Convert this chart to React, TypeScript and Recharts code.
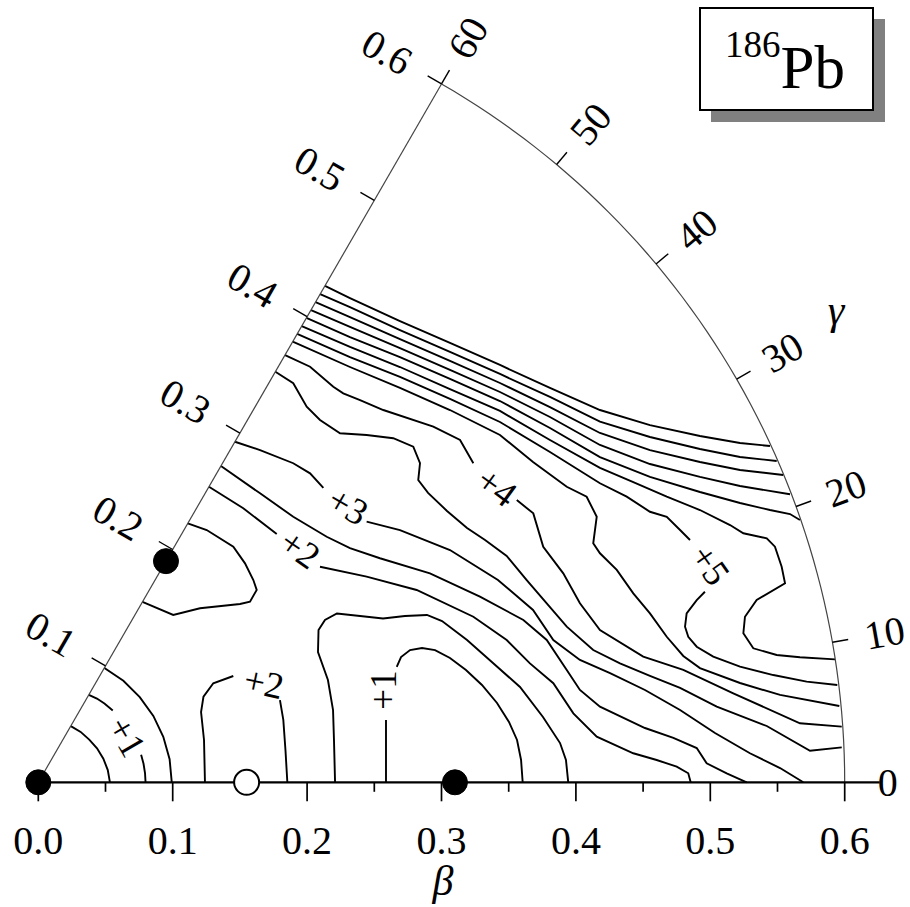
import React from 'react';
import { ComposedChart, Line, XAxis, YAxis, ReferenceLine, ReferenceDot } from 'recharts';

type Pt = [number, number];

// sector geometry: pixel origin of beta = 0 and pixels per unit of beta
const W = 910;
const H = 907;
const OX = 38.3;
const OY = 782.3;
const K = 1344;
const X_DOMAIN: [number, number] = [-OX / K, (W - OX) / K];
const Y_DOMAIN: [number, number] = [(OY - H) / K, OY / K];

const BETA_MAX = 0.6;
const BETA_MAJOR = [0, 0.1, 0.2, 0.3, 0.4, 0.5, 0.6];
const BETA_MINOR = [0.05, 0.15, 0.25, 0.35, 0.45, 0.55];
const BETA_LABELS = ['0.0', '0.1', '0.2', '0.3', '0.4', '0.5', '0.6'];
const OBLATE_TICKS = [0.1, 0.2, 0.3, 0.4, 0.5, 0.6];
const OBLATE_LABELS = ['0.1', '0.2', '0.3', '0.4', '0.5', '0.6'];
const GAMMA_TICKS = [10, 20, 30, 40, 50, 60];
const GAMMA_LABEL_AT = [0, 10, 20, 30, 40, 50, 60];
const GAMMA_LABELS = ['0', '10', '20', '30', '40', '50', '60'];

// minima (filled) and saddle (open), as [beta, gamma in degrees]
const MINIMA: Pt[] = [[0, 0], [0.31, 0], [0.19, 60]];
const SADDLES: Pt[] = [[0.155, 0]];

// contour lines, points as [beta cos(gamma), beta sin(gamma)]
const E05_SPH: Pt[] = [[0.0533, 0], [0.0517, 0.0091], [0.0484, 0.0176], [0.0437, 0.0253], [0.0379, 0.0318], [0.0315, 0.0375], [0.0242, 0.0418]];
const E10_SPH_LOW: Pt[] = [[0.0798, 0], [0.0794, 0.0069], [0.0783, 0.0138], [0.0765, 0.0205]];
const E10_SPH_HIGH: Pt[] = [[0.0554, 0.0535], [0.0492, 0.0586], [0.0436, 0.0623], [0.0376, 0.0651]];
const E15_SPH: Pt[] = [[0.0993, 0], [0.0977, 0.0172], [0.093, 0.0339], [0.0856, 0.0494], [0.0755, 0.0634], [0.0633, 0.0755], [0.0492, 0.0851]];

const E_OBLATE: Pt[] = [[0.1112, 0.1927], [0.1253, 0.1877], [0.1451, 0.1753], [0.1538, 0.1629], [0.16, 0.1505], [0.1625, 0.1431], [0.1575, 0.1344], [0.1501, 0.1327], [0.1203, 0.1295], [0.1004, 0.1245], [0.0775, 0.1342]];

const E20_SAD_A: Pt[] = [[0.124, 0], [0.1233, 0.0315], [0.1211, 0.0523], [0.1229, 0.0637], [0.1302, 0.0737], [0.1451, 0.0791]];
const E20_SAD_B: Pt[] = [[0.1798, 0.0612], [0.1823, 0.0464], [0.1839, 0.024], [0.1853, 0]];

const E10_PRO_A: Pt[] = [[0.2587, 0], [0.2587, 0.0464]];
const E10_PRO_B: Pt[] = [[0.2667, 0.0858], [0.2699, 0.0932], [0.2766, 0.0984], [0.2855, 0.0999], [0.2952, 0.0984], [0.3063, 0.0925], [0.3182, 0.0836], [0.3301, 0.0724], [0.3413, 0.059], [0.3502, 0.0449], [0.3562, 0.0315], [0.3592, 0.0166], [0.3604, 0]];
const E15_PRO: Pt[] = [[0.2208, 0], [0.22, 0.0315], [0.2193, 0.0538], [0.2155, 0.0761], [0.2081, 0.0969], [0.2085, 0.1133], [0.2133, 0.1208], [0.2222, 0.1256], [0.2394, 0.1237], [0.2565, 0.1219], [0.2728, 0.1237], [0.2892, 0.1245], [0.3004, 0.12], [0.319, 0.1059], [0.3383, 0.0888], [0.3584, 0.0709], [0.3755, 0.0486], [0.3882, 0.0292], [0.3926, 0.0166], [0.3943, 0]];

const E20_A: Pt[] = [[0.127, 0.2199], [0.1525, 0.2039], [0.1774, 0.1847]];
const E20_B: Pt[] = [[0.2096, 0.1604], [0.2443, 0.153], [0.2815, 0.1431], [0.3237, 0.1232], [0.3485, 0.1059], [0.3658, 0.0885], [0.3832, 0.0737], [0.3981, 0.0513], [0.4155, 0.0339], [0.4427, 0.0216], [0.4601, 0.0166], [0.475, 0.0116], [0.4836, 0.0067], [0.4854, 0]];
const E25: Pt[] = [[0.1359, 0.2353], [0.165, 0.215], [0.1897, 0.1976], [0.2146, 0.1827], [0.2319, 0.1743], [0.2542, 0.1667], [0.2914, 0.1555], [0.3286, 0.1381], [0.3609, 0.1208], [0.3783, 0.1059], [0.3932, 0.0836], [0.403, 0.0687], [0.4179, 0.0563], [0.4514, 0.0404], [0.4725, 0.033], [0.4899, 0.0255], [0.4973, 0.0141], [0.5122, 0.0067], [0.5271, 0]];
const E30_A: Pt[] = [[0.1463, 0.2534], [0.165, 0.2472], [0.1897, 0.2374], [0.2022, 0.2299], [0.2121, 0.219]];
const E30_B: Pt[] = [[0.2443, 0.1939], [0.2691, 0.1877], [0.3063, 0.1728], [0.342, 0.1505], [0.3681, 0.1282], [0.3832, 0.1059], [0.403, 0.091], [0.4254, 0.0813], [0.4514, 0.0687], [0.4775, 0.0538], [0.5035, 0.0367], [0.5295, 0.0216], [0.5519, 0.0106], [0.5692, 0]];
const E35: Pt[] = [[0.1764, 0.3055], [0.1897, 0.2969], [0.1997, 0.2795], [0.2096, 0.2696], [0.2245, 0.2597], [0.2443, 0.2584], [0.2641, 0.256], [0.279, 0.2497], [0.284, 0.2374], [0.2827, 0.2249], [0.29, 0.2153], [0.3041, 0.2019], [0.319, 0.1892], [0.3324, 0.1803], [0.3485, 0.1684], [0.3634, 0.1505], [0.3783, 0.1332], [0.3932, 0.1158], [0.4129, 0.0984], [0.4328, 0.0885], [0.4551, 0.0791], [0.4775, 0.0702], [0.5048, 0.0563], [0.542, 0.0419], [0.5742, 0.0235], [0.5978, 0.026]];
const E40_A: Pt[] = [[0.1836, 0.3179], [0.2022, 0.3092], [0.2195, 0.2943], [0.2269, 0.2894], [0.2394, 0.2844], [0.2567, 0.277], [0.2939, 0.2646], [0.3138, 0.2547], [0.3237, 0.2374]];
const E40_B: Pt[] = [[0.356, 0.21], [0.3683, 0.2001], [0.3757, 0.1753], [0.3906, 0.1555], [0.403, 0.1332], [0.4179, 0.1133], [0.4501, 0.0935], [0.4799, 0.0836], [0.5171, 0.0662], [0.5667, 0.0439], [0.5978, 0.0414]];
const E45: Pt[] = [[0.1893, 0.3279], [0.2319, 0.309], [0.2691, 0.2934], [0.3063, 0.277], [0.3435, 0.2584], [0.3681, 0.2383], [0.3932, 0.2199], [0.408, 0.2125], [0.4155, 0.1976], [0.4129, 0.1778], [0.4179, 0.1704], [0.4304, 0.158], [0.4427, 0.1406], [0.4551, 0.1257], [0.4676, 0.1083], [0.4799, 0.094], [0.4923, 0.085], [0.5221, 0.0739], [0.5519, 0.065], [0.596, 0.0568]];
const E50_A: Pt[] = [[0.1926, 0.3336], [0.2319, 0.3164], [0.2691, 0.3016], [0.3063, 0.2852], [0.3435, 0.2681], [0.3807, 0.2458], [0.4179, 0.2225], [0.4378, 0.2125], [0.4551, 0.2013], [0.4676, 0.1976], [0.4775, 0.1877], [0.4849, 0.1803]];
const E50_B: Pt[] = [[0.496, 0.1418], [0.4899, 0.1356], [0.4824, 0.1257], [0.4812, 0.1158], [0.4836, 0.1083], [0.4899, 0.1009], [0.5022, 0.0935], [0.5221, 0.086], [0.5469, 0.0798], [0.5717, 0.0749], [0.5945, 0.0724]];
const E55: Pt[] = [[0.196, 0.3395], [0.2319, 0.3239], [0.2691, 0.309], [0.3063, 0.2926], [0.3435, 0.2763], [0.3807, 0.2547], [0.4179, 0.2339], [0.4427, 0.2234], [0.4676, 0.2125], [0.4923, 0.2026], [0.5147, 0.1914], [0.5246, 0.1853], [0.542, 0.1815], [0.5481, 0.1753], [0.5531, 0.1604], [0.5556, 0.1481], [0.5345, 0.1356], [0.5258, 0.1232], [0.5246, 0.1109], [0.532, 0.0997], [0.5494, 0.0947], [0.5667, 0.093], [0.5928, 0.0915]];
const E60: Pt[] = [[0.1995, 0.3455], [0.2319, 0.3313], [0.2691, 0.3164], [0.3063, 0.3001], [0.3435, 0.2837], [0.3807, 0.2636], [0.4179, 0.242], [0.4551, 0.2272], [0.4923, 0.216], [0.5221, 0.2078], [0.5444, 0.2026], [0.5593, 0.1996], [0.5667, 0.1952]];
const E65: Pt[] = [[0.2029, 0.3514], [0.2319, 0.3388], [0.2691, 0.3231], [0.3063, 0.3068], [0.3435, 0.2904], [0.3807, 0.2718], [0.4179, 0.251], [0.4551, 0.2368], [0.4923, 0.2272], [0.5221, 0.2205], [0.5593, 0.2143]];
const E70: Pt[] = [[0.2063, 0.3573], [0.2319, 0.3462], [0.2691, 0.3298], [0.3063, 0.3135], [0.3435, 0.2971], [0.3807, 0.2792], [0.4179, 0.2599], [0.4551, 0.2472], [0.4923, 0.2383], [0.5221, 0.2324], [0.5543, 0.2286]];
const E75: Pt[] = [[0.2097, 0.3633], [0.2319, 0.3536], [0.2691, 0.3365], [0.3063, 0.3202], [0.3435, 0.3038], [0.3807, 0.2867], [0.4179, 0.2683], [0.4551, 0.2569], [0.4923, 0.248], [0.5221, 0.242], [0.5494, 0.2391]];
const E80: Pt[] = [[0.2133, 0.3693], [0.2319, 0.3603], [0.2691, 0.3432], [0.3063, 0.3269], [0.3435, 0.3105], [0.3807, 0.2934], [0.4179, 0.277], [0.4551, 0.2658], [0.4923, 0.2577], [0.5221, 0.2525], [0.5444, 0.2502]];

const CONTOURS: Pt[][] = [
  E05_SPH, E10_SPH_LOW, E10_SPH_HIGH, E15_SPH, E_OBLATE, E20_SAD_A, E20_SAD_B,
  E10_PRO_A, E10_PRO_B, E15_PRO, E20_A, E20_B, E25, E30_A, E30_B, E35,
  E40_A, E40_B, E45, E50_A, E50_B, E55, E60, E65, E70, E75, E80,
];

// in-line energy labels (MeV above the ground state)
const LEVEL_TEXT = ['+1', '+2', '+1', '+2', '+3', '+4', '+5'];
const LEVEL_AT: Pt[] = [[0.0658, 0.0339], [0.1679, 0.0739], [0.2572, 0.0687], [0.1947, 0.1736], [0.2304, 0.2056], [0.3411, 0.2197], [0.4998, 0.1617]];
const LEVEL_ANGLE = [60, 12, -90, 35, 30, 36, 55];

const SERIF = '"Liberation Serif", "DejaVu Serif", serif';

const polar = (b: number, gDeg: number): Pt => {
  const g = (gDeg * Math.PI) / 180;
  return [b * Math.cos(g), b * Math.sin(g)];
};
const toPx = ([x, y]: Pt): Pt => [OX + K * x, OY - K * y];
const rows = (pts: Pt[]) => pts.map(([x, y]) => ({ x, y }));

const BETA_AXIS: Pt[] = [[0, 0], [BETA_MAX + 35 / K, 0]];
const OBLATE_AXIS: Pt[] = [[0, 0], polar(BETA_MAX, 60)];
const OUTER_ARC: Pt[] = Array.from({ length: 61 }, (_, g) => polar(BETA_MAX, g));

type LabelProps = { x: number; y: number; angle?: number; size?: number; anchor?: 'start' | 'middle' | 'end'; italic?: boolean; children: React.ReactNode };
const Label = ({ x, y, angle = 0, size = 40, anchor = 'middle', italic = false, children }: LabelProps) => (
  <text
    x={x}
    y={y}
    transform={angle ? `rotate(${angle} ${x} ${y})` : undefined}
    textAnchor={anchor}
    dominantBaseline="central"
    fontFamily={SERIF}
    fontSize={size}
    fontStyle={italic ? 'italic' : 'normal'}
    fill="#000"
  >
    {children}
  </text>
);

function Annotations() {
  const out = 63;
  const nx = -Math.sin(Math.PI / 3);
  const ny = -Math.cos(Math.PI / 3);
  return (
    <g>
      {BETA_MAJOR.map((b, i) => {
        const [x] = toPx([b, 0]);
        return <Label key={`b${i}`} x={x} y={840}>{BETA_LABELS[i]}</Label>;
      })}
      {OBLATE_TICKS.map((r, i) => {
        const [x, y] = toPx(polar(r, 60));
        return <Label key={`r${i}`} x={x + out * nx} y={y + out * ny} angle={30}>{OBLATE_LABELS[i]}</Label>;
      })}
      {GAMMA_LABEL_AT.map((g, i) => {
        const [x, y] = toPx(polar(BETA_MAX + 33 / K, g));
        return <Label key={`g${i}`} x={x} y={y} angle={-g} anchor="start">{GAMMA_LABELS[i]}</Label>;
      })}
      {LEVEL_TEXT.map((t, i) => {
        const [x, y] = toPx(LEVEL_AT[i]);
        return <Label key={`l${i}`} x={x} y={y} angle={LEVEL_ANGLE[i]} size={37}>{t}</Label>;
      })}
      <Label x={443} y={881} size={42} italic>β</Label>
      <Label x={836} y={310} size={42} italic>γ</Label>

      <rect x={711} y={19} width={174} height={103} fill="#808080" />
      <rect x={700} y={8} width={173} height={102} fill="#fff" stroke="#000" strokeWidth={2} />
      <text x={725} y={88} fontFamily={SERIF} fill="#000">
        <tspan fontSize={37} dy={-31}>186</tspan>
        <tspan fontSize={61} dy={31}>Pb</tspan>
      </text>
    </g>
  );
}

export default function App() {
  return (
    <div style={{ position: 'absolute', left: 0, top: 0, width: W, height: H, background: '#fff' }}>
      <ComposedChart width={W} height={H} margin={{ top: 0, right: 0, bottom: 0, left: 0 }}>
        <XAxis type="number" dataKey="x" domain={X_DOMAIN} allowDataOverflow hide />
        <YAxis type="number" dataKey="y" domain={Y_DOMAIN} allowDataOverflow hide />

        {CONTOURS.map((c, i) => (
          <Line key={`c${i}`} data={rows(c)} dataKey="y" type="linear" dot={false} activeDot={false}
            stroke="#000" strokeWidth={1.9} isAnimationActive={false} />
        ))}

        <Line data={rows(OUTER_ARC)} dataKey="y" type="linear" dot={false} activeDot={false}
          stroke="#444" strokeWidth={1.2} isAnimationActive={false} />
        <Line data={rows(OBLATE_AXIS)} dataKey="y" type="linear" dot={false} activeDot={false}
          stroke="#444" strokeWidth={1.2} isAnimationActive={false} />
        <Line data={rows(BETA_AXIS)} dataKey="y" type="linear" dot={false} activeDot={false}
          stroke="#000" strokeWidth={2.2} isAnimationActive={false} />

        {BETA_MAJOR.map((b) => (
          <ReferenceLine key={`M${b}`} segment={[{ x: b, y: 0 }, { x: b, y: -19 / K }]} stroke="#000" strokeWidth={1.7} ifOverflow="visible" />
        ))}
        {BETA_MINOR.map((b) => (
          <ReferenceLine key={`m${b}`} segment={[{ x: b, y: 0 }, { x: b, y: -9.5 / K }]} stroke="#000" strokeWidth={1.7} ifOverflow="visible" />
        ))}
        {OBLATE_TICKS.map((r) => {
          const [x, y] = polar(r, 60);
          const len = 16 / K;
          return (
            <ReferenceLine key={`o${r}`} segment={[{ x, y }, { x: x - len * Math.sin(Math.PI / 3), y: y + len * Math.cos(Math.PI / 3) }]}
              stroke="#000" strokeWidth={1.4} ifOverflow="visible" />
          );
        })}
        {GAMMA_TICKS.map((g) => {
          const [x0, y0] = polar(BETA_MAX, g);
          const [x1, y1] = polar(BETA_MAX + 16 / K, g);
          return <ReferenceLine key={`t${g}`} segment={[{ x: x0, y: y0 }, { x: x1, y: y1 }]} stroke="#000" strokeWidth={1.4} ifOverflow="visible" />;
        })}

        {MINIMA.map(([b, g], i) => {
          const [x, y] = polar(b, g);
          return <ReferenceDot key={`min${i}`} x={x} y={y} r={12.5} fill="#000" stroke="#000" ifOverflow="visible" />;
        })}
        {SADDLES.map(([b, g], i) => {
          const [x, y] = polar(b, g);
          return <ReferenceDot key={`sad${i}`} x={x} y={y} r={12.5} fill="#fff" stroke="#000" strokeWidth={2} ifOverflow="visible" />;
        })}

        <Annotations />
      </ComposedChart>
    </div>
  );
}
